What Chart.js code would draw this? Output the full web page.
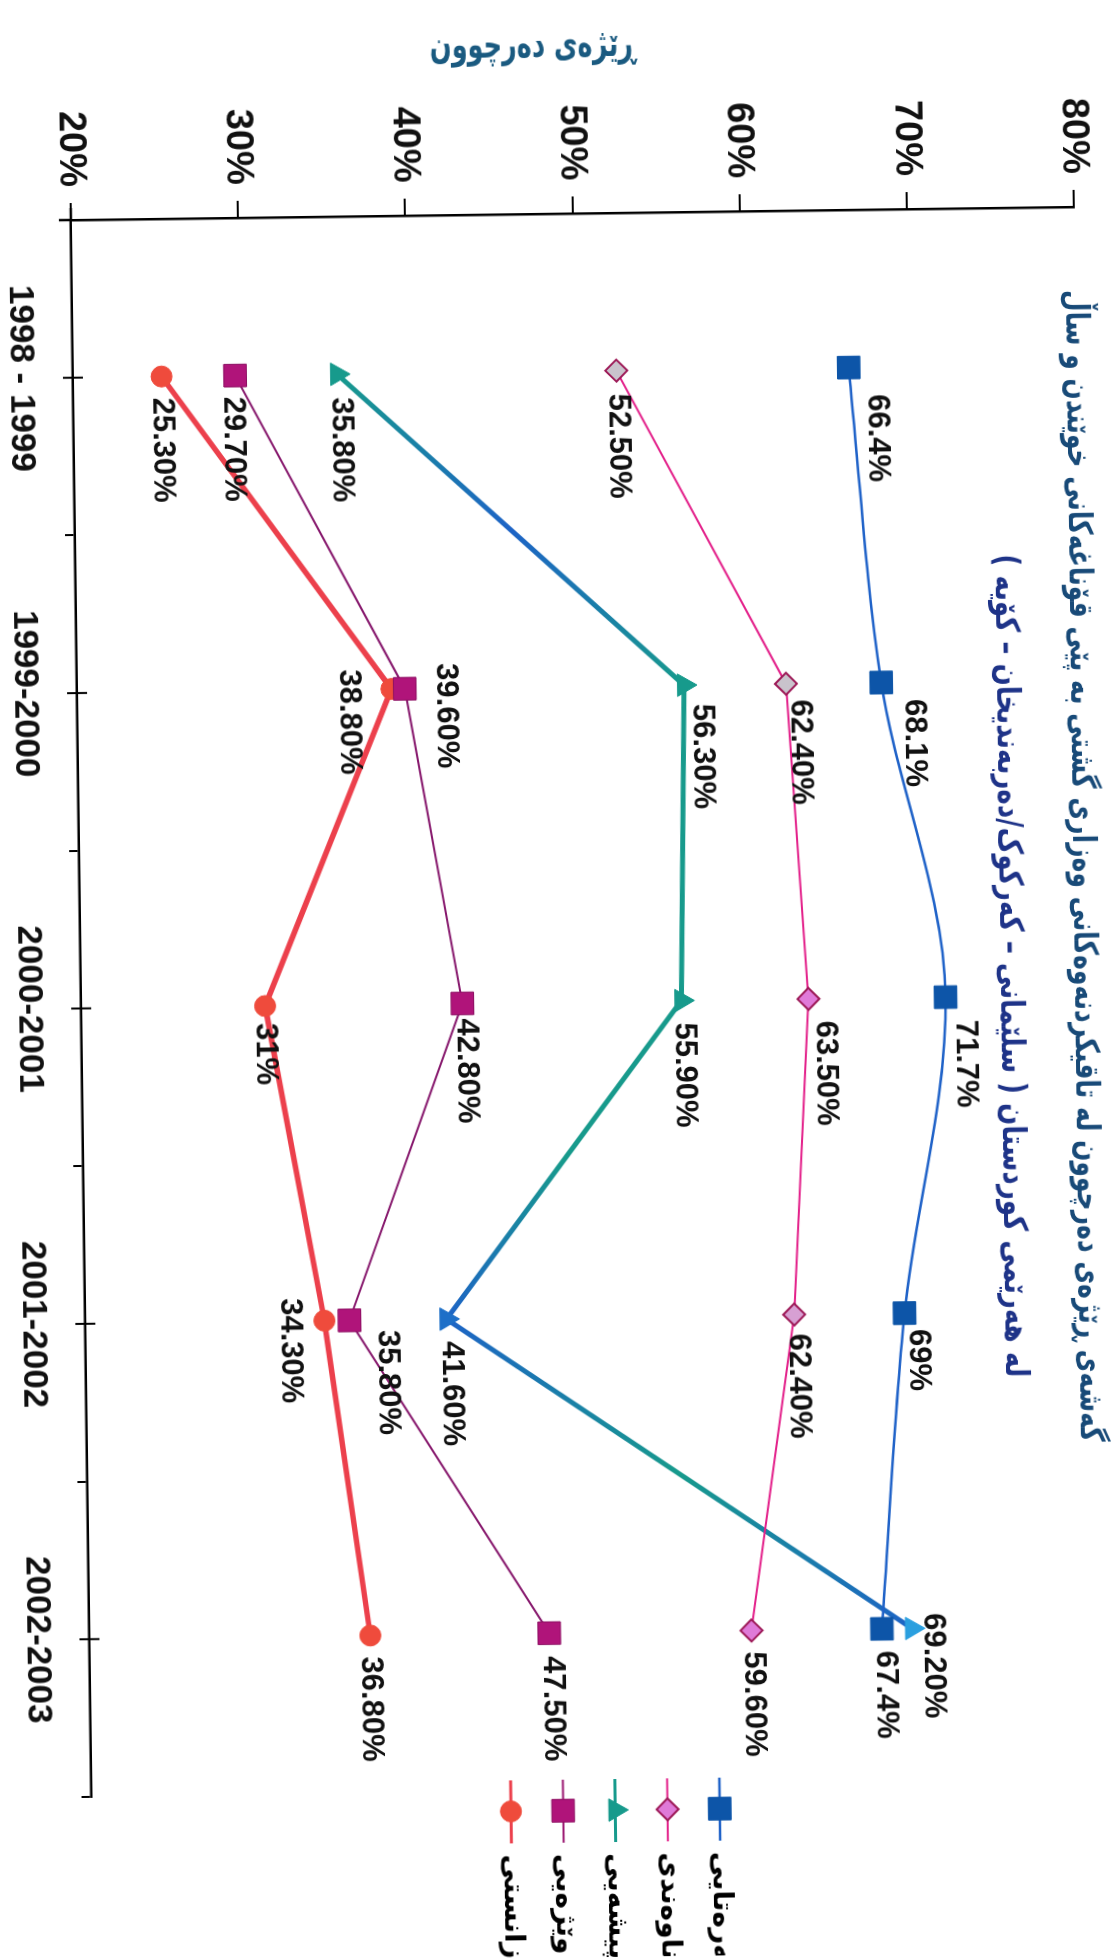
<!DOCTYPE html>
<html>
<head>
<meta charset="utf-8">
<script src="https://cdn.jsdelivr.net/npm/chart.js@4.4.1/dist/chart.umd.min.js"></script>
<style>
  html, body { margin: 0; padding: 0; background: #fff; overflow: hidden; }
  /* the printed chart is turned a quarter turn (plus a slight scan skew) */
  #wrap { position: absolute; left: 0; top: 0; width: 1958px; height: 1113px;
    transform-origin: 0 0; transform: translate(1110px, -7.6px) rotate(89.25deg); }
</style>
</head>
<body>
<div id="wrap"><canvas id="chart" width="1958" height="1113"></canvas></div>
<script>
const years = ['1998 - 1999', '1999-2000', '2000-2001', '2001-2002', '2002-2003'];
const seriesNames = ['سەرەتایی', 'ناوەندی', 'پیشەیی', 'وێژەیی', 'زانستی'];
const primary = [66.4, 68.1, 71.7, 69, 67.4];
const intermediate = [52.5, 62.4, 63.5, 62.4, 59.6];
const vocational = [35.8, 56.3, 55.9, 41.6, 69.2];
const literary = [29.7, 39.6, 42.8, 35.8, 47.5];
const scientific = [25.3, 38.8, 31, 34.3, 36.8];
const percentTicks = [20, 30, 40, 50, 60, 70, 80];

// value labels as printed on the chart
const primaryText = ['66.4%', '68.1%', '71.7%', '69%', '67.4%'];
const intermediateText = ['52.50%', '62.40%', '63.50%', '62.40%', '59.60%'];
const vocationalText = ['35.80%', '56.30%', '55.90%', '41.60%', '69.20%'];
const literaryText = ['29.70%', '39.60%', '42.80%', '35.80%', '47.50%'];
const scientificText = ['25.30%', '38.80%', '31%', '34.30%', '36.80%'];

const titleLines = [
  'گەشەی ڕێژەی دەرچوون لە تاقیکردنەوەکانی وەزاری گشتی بە پێی قۆناغەکانی خوێندن و ساڵ',
  'لە هەرێمی کوردستان ( سلێمانی – کەرکوک/دەربەندیخان – کۆیە )'
];
const axisTitle = 'ڕێژەی دەرچوون';

// where each value label sits relative to its point
const labelShift = [
  { dx: [27, 17, 23, 16, 22], dy: [-28, -32, -19, -13, -3] },
  { dx: [23, 16, 22, 19, 21], dy: [-1, -14, -16, -4, -1] },
  { dx: [23, 19, 22, 22, -15], dy: [-3, -18, -2, -4, -21] },
  { dx: [21, -25, 15, 10, 23], dy: [3, -41, -3, -37, -3] },
  { dx: [21, -20, 17, -23, 21], dy: [0, 43, 0, 35, 0] }
];

const TEAL = '#179a8c', TBLUE = '#1d63c6';
const tealStops = [[TEAL, TBLUE, TEAL], [TEAL, TEAL, TEAL], [TEAL, TEAL, TBLUE], [TBLUE, TEAL, TBLUE]];

const canvas = document.getElementById('chart');
const g2d = canvas.getContext('2d');
const numFont = '"Liberation Sans", Arial, sans-serif';
const kuFont = '"DejaVu Sans", sans-serif';

function fittedText(ctx, text, cx, cy, width, angle, font, color) {
  ctx.save();
  ctx.font = font;
  ctx.direction = 'rtl';
  const w = ctx.measureText(text).width;
  ctx.translate(cx, cy);
  ctx.rotate(angle);
  ctx.scale(width / w, 1);
  ctx.fillStyle = color;
  ctx.textAlign = 'center';
  ctx.textBaseline = 'middle';
  ctx.fillText(text, 0, 0);
  ctx.restore();
}

const decorations = {
  id: 'decorations',
  afterDatasetsDraw(chart) {
    const ctx = chart.ctx;
    ctx.save();
    ctx.font = 'bold 31px ' + numFont;
    ctx.fillStyle = '#111';
    ctx.textAlign = 'left';
    ctx.textBaseline = 'middle';
    chart.data.datasets.forEach((ds, i) => {
      chart.getDatasetMeta(i).data.forEach((pt, j) => {
        ctx.fillText(ds.text[j], pt.x + labelShift[i].dx[j], pt.y + labelShift[i].dy[j]);
      });
    });
    ctx.restore();
  },
  afterDraw(chart) {
    const ctx = chart.ctx;
    const area = chart.chartArea;
    const xs = chart.scales.x;

    // centre ticks crossing the category axis, and short axis overhangs
    ctx.save();
    ctx.strokeStyle = '#000';
    ctx.lineWidth = 2;
    years.forEach((y, i) => {
      const px = xs.getPixelForValue(i);
      ctx.beginPath();
      ctx.moveTo(px, area.bottom - 10);
      ctx.lineTo(px, area.bottom + 10);
      ctx.stroke();
    });
    ctx.lineWidth = 2.5;
    ctx.beginPath();
    ctx.moveTo(area.left - 12, area.bottom);
    ctx.lineTo(area.left, area.bottom);
    ctx.moveTo(area.left, area.bottom);
    ctx.lineTo(area.left, area.bottom + 12);
    ctx.stroke();
    ctx.restore();

    // titles
    fittedText(ctx, titleLines[0], 873, 39, 1152, 0, 'bold 33px ' + kuFont, '#184a78');
    fittedText(ctx, titleLines[1], 972, 113, 823, 0, 'bold 33px ' + kuFont, '#1e3388');
    fittedText(ctx, axisTitle, 47, 578, 206, -Math.PI / 2, 'bold 38px ' + kuFont, '#1a5a80');

    // legend
    chart.data.datasets.forEach((ds, i) => {
      const y = 414 + i * 52.2;
      ctx.save();
      ctx.strokeStyle = ds.legendColor;
      ctx.lineWidth = Math.min(ds.borderWidth, 3);
      ctx.beginPath();
      ctx.moveTo(1780, y);
      ctx.lineTo(1843, y);
      ctx.stroke();
      ctx.fillStyle = ds.legendFill;
      ctx.strokeStyle = ds.pointBorderColor;
      ctx.lineWidth = ds.pointBorderWidth || 1;
      Chart.helpers.drawPoint(ctx, { pointStyle: ds.pointStyle, radius: ds.pointRadius, borderWidth: ds.pointBorderWidth || 1 }, 1811, y);
      ctx.font = 'bold 28px ' + kuFont;
      ctx.direction = 'rtl';
      ctx.fillStyle = '#000';
      ctx.textAlign = 'left';
      ctx.textBaseline = 'middle';
      ctx.fillText(ds.label, 1854, y);
      ctx.restore();
    });
  }
};

new Chart(canvas, {
  type: 'line',
  data: {
    labels: years,
    datasets: [
      { label: seriesNames[0], data: primary, text: primaryText,
        borderColor: '#1f62c8', borderWidth: 2.5, cubicInterpolationMode: 'monotone',
        pointStyle: 'rect', pointRadius: 16, pointBackgroundColor: '#0d55a8', pointBorderColor: '#0d55a8', pointBorderWidth: 1,
        legendColor: '#1f62c8', legendFill: '#0d55a8' },
      { label: seriesNames[1], data: intermediate, text: intermediateText,
        borderColor: '#e3208a', borderWidth: 2,
        pointStyle: 'rectRot', pointRadius: 11,
        pointBackgroundColor: ['#c9c3cc', '#c9c3cc', '#e07ad9', '#d7a0d3', '#df7ad8'], pointBorderColor: '#9c1856', pointBorderWidth: 2,
        legendColor: '#e3208a', legendFill: '#df7ad8' },
      { label: seriesNames[2], data: vocational, text: vocationalText,
        borderColor: TEAL, borderWidth: 5,
        segment: { borderColor: c => {
          const g = g2d.createLinearGradient(c.p0.x, c.p0.y, c.p1.x, c.p1.y);
          const s = tealStops[c.p0DataIndex];
          g.addColorStop(0, s[0]); g.addColorStop(0.5, s[1]); g.addColorStop(1, s[2]);
          return g;
        } },
        pointStyle: 'triangle', pointRadius: 13,
        pointBackgroundColor: [TEAL, TEAL, TEAL, '#1d6fc8', '#2a9fdf'], pointBorderColor: [TEAL, TEAL, TEAL, '#1d6fc8', '#2a9fdf'], pointBorderWidth: 1,
        legendColor: TEAL, legendFill: TEAL },
      { label: seriesNames[3], data: literary, text: literaryText,
        borderColor: '#86176c', borderWidth: 2,
        pointStyle: 'rect', pointRadius: 16, pointBackgroundColor: '#b0147a', pointBorderColor: '#8d1063', pointBorderWidth: 1,
        legendColor: '#9a1670', legendFill: '#b0147a' },
      { label: seriesNames[4], data: scientific, text: scientificText,
        borderColor: '#ec404c', borderWidth: 5.5,
        pointStyle: 'circle', pointRadius: 10.5, pointBackgroundColor: '#ef4b3c', pointBorderColor: '#ef4b3c', pointBorderWidth: 1,
        legendColor: '#ec404c', legendFill: '#ef4b3c' }
    ]
  },
  options: {
    responsive: false,
    devicePixelRatio: 1,
    animation: false,
    events: [],
    layout: { padding: { top: 28, right: 167, bottom: 0, left: 0 } },
    plugins: { legend: { display: false }, title: { display: false }, tooltip: { enabled: false } },
    scales: {
      x: {
        offset: true,
        afterFit: s => { s.height = 71; },
        grid: { display: true, offset: true, drawOnChartArea: false, tickLength: 10, color: '#000', lineWidth: 2 },
        border: { display: true, color: '#000', width: 2.5 },
        ticks: { color: '#111', padding: 21, maxRotation: 0, font: { family: numFont, size: 35, weight: 'bold' } }
      },
      y: {
        min: percentTicks[0],
        max: percentTicks[percentTicks.length - 1],
        afterFit: s => { s.width = 214; },
        ticks: { stepSize: percentTicks[1] - percentTicks[0], color: '#111', padding: 16,
          font: { family: numFont, size: 38, weight: 'bold' }, callback: v => v + '%' },
        grid: { display: true, drawOnChartArea: false, tickLength: 17, color: '#000', lineWidth: 2 },
        border: { display: true, color: '#000', width: 2.5 }
      }
    }
  },
  plugins: [decorations]
});
</script>
</body>
</html>
